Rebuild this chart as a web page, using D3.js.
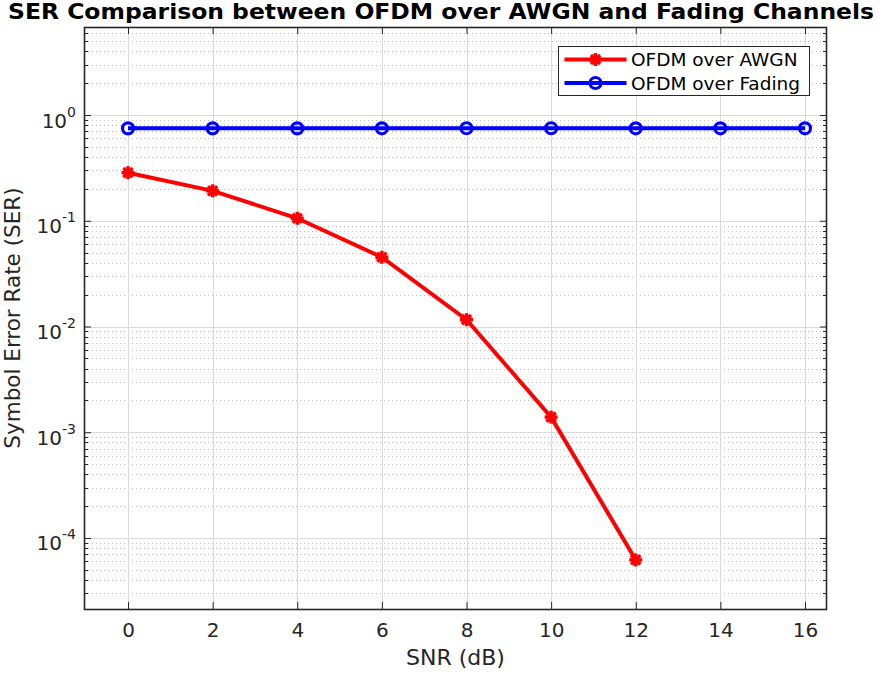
<!DOCTYPE html>
<html>
<head>
<meta charset="utf-8">
<script src="https://cdn.jsdelivr.net/npm/d3@7"></script>
<style>
  body { margin: 0; background: #fff; }
  svg { display: block; font-family: "DejaVu Sans", sans-serif; }
  .grid-major line { stroke: #dadada; stroke-width: 1; }
  .grid-minor line { stroke: #bdbdbd; stroke-width: 1; stroke-dasharray: 1 3; }
</style>
</head>
<body>
<script>
// data
const snr = [0, 2, 4, 6, 8, 10, 12, 14, 16];
const serAwgn = [0.285, 0.192, 0.1056, 0.0452, 0.0116, 0.00139, 0.000062];
const serFading = [0.748, 0.748, 0.748, 0.749, 0.750, 0.750, 0.749, 0.749, 0.749];
const xTicks = [0, 2, 4, 6, 8, 10, 12, 14, 16];
const yTicks = [1, 0.1, 0.01, 0.001, 0.0001];
const seriesNames = ["OFDM over AWGN", "OFDM over Fading"];

const W = 880, H = 673;
const margin = { left: 84, right: 53, top: 27, bottom: 64 };

const svg = d3.select("body").append("svg")
  .attr("width", W).attr("height", H);

const x = d3.scaleLinear()
  .domain([-1.04, 16.52])
  .range([margin.left, W - margin.right]);

const y = d3.scaleLog()
  .domain([2.13e-5, 6.8])
  .range([H - margin.bottom, margin.top]);

const x0 = margin.left, x1 = W - margin.right;
const y0 = H - margin.bottom, y1 = margin.top;

// minor log ticks inside the domain
const minorTicks = [];
for (let e = -5; e <= 0; e++) {
  for (let m = 2; m <= 9; m++) {
    const v = m * Math.pow(10, e);
    if (v >= y.domain()[0] && v <= y.domain()[1]) minorTicks.push(v);
  }
}

// grid
svg.append("g").attr("class", "grid-minor")
  .selectAll("line").data(minorTicks).join("line")
  .attr("x1", x0).attr("x2", x1)
  .attr("y1", d => Math.round(y(d)) + 0.5).attr("y2", d => Math.round(y(d)) + 0.5);

svg.append("g").attr("class", "grid-major")
  .selectAll("line.v").data(xTicks).join("line").attr("class", "v")
  .attr("x1", d => Math.round(x(d)) + 0.5).attr("x2", d => Math.round(x(d)) + 0.5)
  .attr("y1", y1).attr("y2", y0);

svg.append("g").attr("class", "grid-major")
  .selectAll("line.h").data(yTicks).join("line").attr("class", "h")
  .attr("x1", x0).attr("x2", x1)
  .attr("y1", d => Math.round(y(d)) + 0.5).attr("y2", d => Math.round(y(d)) + 0.5);

// axes (ticks pointing inwards, on all four sides)
const tickColor = "#262626";
const xb = svg.append("g").attr("transform", `translate(0,${y0})`)
  .call(d3.axisBottom(x).tickValues(xTicks).tickSizeInner(-7).tickSizeOuter(0).tickPadding(14));
const xt = svg.append("g").attr("transform", `translate(0,${y1})`)
  .call(d3.axisTop(x).tickValues(xTicks).tickSizeInner(-7).tickSizeOuter(0).tickFormat(""));
const yl = svg.append("g").attr("transform", `translate(${x0},0)`)
  .call(d3.axisLeft(y).tickValues(yTicks).tickSizeInner(-7).tickSizeOuter(0)
    .tickFormat(() => ""));
const yr = svg.append("g").attr("transform", `translate(${x1},0)`)
  .call(d3.axisRight(y).tickValues(yTicks).tickSizeInner(-7).tickSizeOuter(0).tickFormat(""));

// minor tick marks on both sides
svg.append("g").selectAll("line").data(minorTicks).join("line")
  .attr("x1", x0).attr("x2", x0 + 4)
  .attr("y1", d => Math.round(y(d)) + 0.5).attr("y2", d => Math.round(y(d)) + 0.5)
  .attr("stroke", tickColor);
svg.append("g").selectAll("line").data(minorTicks).join("line")
  .attr("x1", x1).attr("x2", x1 - 4)
  .attr("y1", d => Math.round(y(d)) + 0.5).attr("y2", d => Math.round(y(d)) + 0.5)
  .attr("stroke", tickColor);

[xb, xt, yl, yr].forEach(g => {
  g.select(".domain").remove();
  g.selectAll("line").attr("stroke", tickColor);
  g.selectAll("text").attr("fill", tickColor).style("font-size", "20px")
    .style("font-family", "'DejaVu Sans', sans-serif");
});

// y tick labels as 10^n
yl.selectAll(".tick").each(function(d) {
  const t = d3.select(this).select("text").text(null)
    .attr("x", -8).attr("dy", null).attr("y", 12);
  t.append("tspan").text("10");
  t.append("tspan").attr("dy", -11).style("font-size", "14px")
    .text(Math.round(Math.log10(d)));
});

// box
svg.append("rect")
  .attr("x", x0 + 0.5).attr("y", y1 + 0.5)
  .attr("width", x1 - x0 - 1).attr("height", y0 - y1)
  .attr("fill", "none").attr("stroke", tickColor).attr("stroke-width", 1.6);

// lines
const line = d3.line().x(d => x(d[0])).y(d => y(d[1]));

const awgnPts = serAwgn.map((v, i) => [snr[i], v]);
const fadePts = serFading.map((v, i) => [snr[i], v]);

svg.append("path").datum(fadePts)
  .attr("d", line).attr("fill", "none").attr("stroke", "#0000ff").attr("stroke-width", 4);
svg.append("path").datum(awgnPts)
  .attr("d", line).attr("fill", "none").attr("stroke", "#ff0000").attr("stroke-width", 4);

// markers
function circleMarker(g, cx, cy) {
  g.append("circle").attr("cx", cx).attr("cy", cy).attr("r", 5.5)
    .attr("fill", "none").attr("stroke", "#0000ff").attr("stroke-width", 3.2);
}
function starMarker(g, cx, cy) {
  const r = 6.5;
  for (let k = 0; k < 4; k++) {
    const a = k * Math.PI / 4;
    g.append("line")
      .attr("x1", cx - r * Math.cos(a)).attr("y1", cy - r * Math.sin(a))
      .attr("x2", cx + r * Math.cos(a)).attr("y2", cy + r * Math.sin(a))
      .attr("stroke", "#ff0000").attr("stroke-width", 3.5);
  }
}
const mk = svg.append("g");
fadePts.forEach(p => circleMarker(mk, x(p[0]), y(p[1])));
awgnPts.forEach(p => starMarker(mk, x(p[0]), y(p[1])));

// title and labels
svg.append("text")
  .attr("x", 441).attr("y", 18.5).attr("text-anchor", "middle")
  .attr("textLength", 866).attr("lengthAdjust", "spacingAndGlyphs")
  .style("font-size", "21px").style("font-weight", "bold").attr("fill", "#000")
  .text("SER Comparison between OFDM over AWGN and Fading Channels");

svg.append("text")
  .attr("x", (x0 + x1) / 2).attr("y", 665).attr("text-anchor", "middle")
  .style("font-size", "22px").attr("fill", tickColor)
  .text("SNR (dB)");

svg.append("text")
  .attr("transform", `translate(${20},${(y0 + y1) / 2}) rotate(-90)`)
  .attr("text-anchor", "middle")
  .style("font-size", "21.5px").attr("fill", tickColor)
  .text("Symbol Error Rate (SER)");

// legend
const lg = svg.append("g").attr("transform", "translate(558.5,46.5)");
lg.append("rect").attr("width", 251).attr("height", 49)
  .attr("fill", "#fff").attr("stroke", tickColor).attr("stroke-width", 1);
const rows = [
  { name: seriesNames[0], color: "#ff0000", marker: starMarker },
  { name: seriesNames[1], color: "#0000ff", marker: circleMarker }
];
rows.forEach((r, i) => {
  const cy = 13 + i * 23.5;
  lg.append("line").attr("x1", 6).attr("x2", 68).attr("y1", cy).attr("y2", cy)
    .attr("stroke", r.color).attr("stroke-width", 4);
  r.marker(lg, 37, cy);
  lg.append("text").attr("x", 72.5).attr("y", cy + 6.5)
    .style("font-size", "18.5px").attr("fill", "#000").text(r.name);
});
</script>
</body>
</html>
